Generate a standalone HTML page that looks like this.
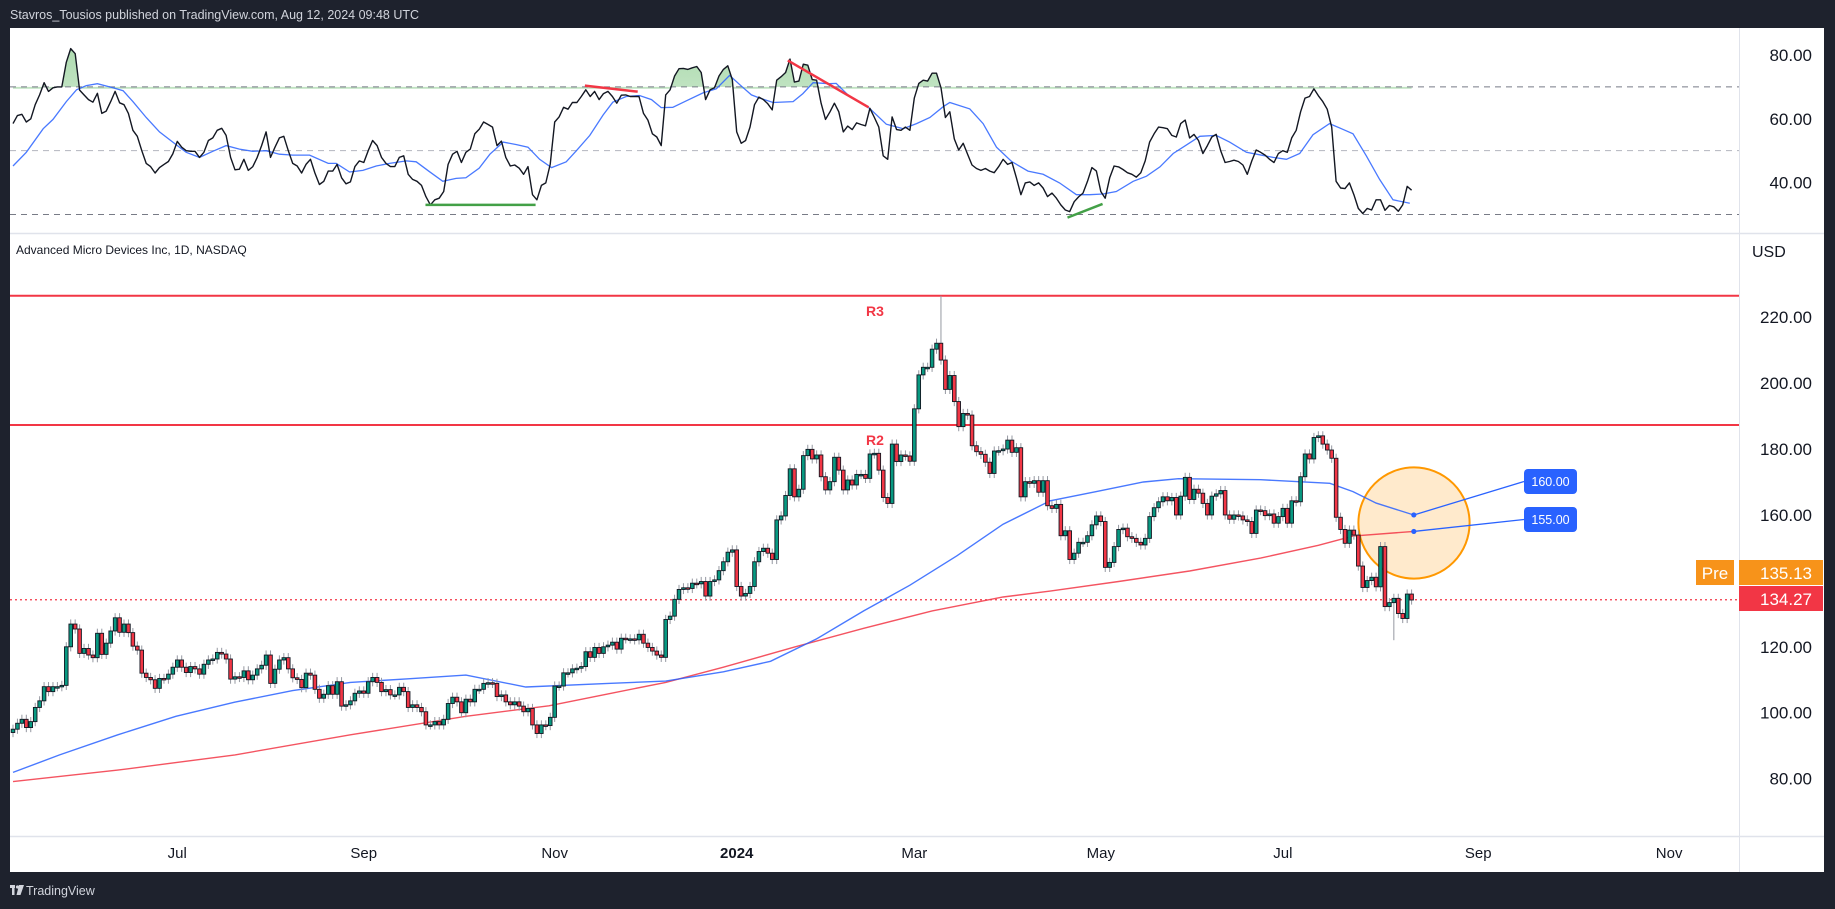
<!DOCTYPE html>
<html>
<head>
<meta charset="utf-8">
<style>
html,body{margin:0;padding:0;background:#1e222d;}
body{width:1835px;height:909px;overflow:hidden;font-family:"Liberation Sans",sans-serif;}
svg{display:block;}
</style>
</head>
<body>
<svg id="chart" width="1835" height="909" viewBox="0 0 1835 909" xmlns="http://www.w3.org/2000/svg">
  <defs>
    <clipPath id="obClip"><rect x="10" y="28" width="1729" height="60.8"/></clipPath>
    <linearGradient id="obGrad" x1="0" y1="0" x2="0" y2="1">
      <stop offset="0" stop-color="#4caf50" stop-opacity="0.45"/>
      <stop offset="1" stop-color="#4caf50" stop-opacity="0.05"/>
    </linearGradient>
  </defs>
  <rect x="0" y="0" width="1835" height="909" fill="#1e222d"/>
  <text x="10" y="19" font-size="12.5" fill="#d1d4dc" font-family="Liberation Sans, sans-serif">Stavros_Tousios published on TradingView.com, Aug 12, 2024 09:48 UTC</text>
  <rect x="10" y="28" width="1814" height="844" fill="#ffffff"/>
  <line x1="1739.5" y1="28" x2="1739.5" y2="872" stroke="#e0e3eb" stroke-width="1"/>
  <line x1="10" y1="233.5" x2="1824" y2="233.5" stroke="#e0e3eb" stroke-width="1.5"/>
  <line x1="10" y1="836.5" x2="1824" y2="836.5" stroke="#e0e3eb" stroke-width="1.5"/>
  <g id="rsiPane"></g>
  <g id="mainPane"></g>
  <text x="16" y="254" font-size="12" fill="#131722">Advanced Micro Devices Inc, 1D, NASDAQ</text>
  <text x="1752" y="257" font-size="16" fill="#131722">USD</text>
  <g id="axes"></g>
  <g>
    <rect x="10" y="885" width="5" height="3" fill="#d1d4dc"/>
    <rect x="12" y="885" width="2.5" height="10" fill="#d1d4dc"/>
    <circle cx="17.5" cy="887" r="1.6" fill="#d1d4dc"/>
    <polygon points="19,885 24,885 20.5,895 16.5,895" fill="#d1d4dc"/>
    <text x="26" y="895" font-size="12.5" fill="#d1d4dc">TradingView</text>
  </g>
</svg>
<script>
// ---------- DATA ----------
const closes = [
95.0,96.8,98.0,95.5,97.3,101.6,103.6,107.9,106.4,107.9,
107.9,108.3,120.0,126.9,125.4,118.0,119.5,117.5,116.7,124.1,
117.7,121.1,124.8,128.8,124.4,126.9,124.3,120.2,119.0,112.0,
110.7,110.0,107.4,110.4,110.2,111.7,113.8,116.0,113.8,112.2,
114.0,113.3,111.7,114.7,116.0,116.3,118.3,117.8,116.3,110.2,
110.9,110.7,112.7,110.0,111.4,113.3,114.4,117.5,108.9,113.2,
116.0,116.7,113.3,110.6,110.1,107.6,112.0,111.4,107.1,104.4,
105.6,108.2,105.6,109.4,102.0,102.4,103.6,105.9,106.6,105.9,
109.4,110.7,109.2,106.4,107.0,105.4,105.4,107.7,
106.4,101.6,102.4,101.6,100.3,96.3,96.3,97.3,96.3,98.0,
102.8,104.7,103.3,100.0,104.1,103.3,107.1,107.1,108.9,109.1,
108.9,104.9,105.4,103.3,102.4,103.3,102.0,100.3,101.3,96.3,
93.7,96.3,96.1,98.6,108.1,108.1,112.1,112.1,113.3,113.5,
114.0,118.5,116.8,119.8,118.0,120.0,120.5,121.4,119.3,122.6,
122.4,122.4,122.1,123.8,121.1,119.8,118.7,117.5,116.8,128.3,
129.3,134.4,137.4,137.9,137.7,139.3,139.1,139.8,135.4,139.8,
140.3,143.1,145.8,148.7,149.4,138.3,135.4,136.2,138.3,145.8,
148.9,149.9,148.4,146.5,
158.5,159.7,165.9,174.0,165.5,167.8,178.0,179.9,177.0,178.2,
171.6,167.6,170.1,177.5,173.6,167.6,170.6,169.1,172.3,172.3,
171.1,178.5,178.7,173.6,165.3,163.5,181.5,176.2,178.2,177.9,
176.3,192.2,202.5,204.8,204.8,210.3,212.1,207.0,198.1,202.3,
194.4,186.8,190.8,190.3,181.0,179.2,178.4,176.0,172.6,179.4,
179.5,180.0,182.7,179.0,180.4,165.5,170.1,169.6,170.4,166.9,
170.4,162.8,162.0,163.2,153.7,155.2,146.5,148.4,151.7,151.7,
153.7,157.0,159.7,158.0,144.1,145.6,150.4,155.6,156.0,153.4,
152.9,151.7,150.9,152.9,159.5,162.2,164.0,165.5,164.3,
165.3,160.0,165.7,171.4,164.7,167.8,166.6,163.5,160.0,165.7,
166.4,167.4,160.0,158.7,160.0,159.7,158.5,158.0,154.4,161.5,
161.3,159.8,160.3,157.5,159.5,162.0,157.5,164.3,164.0,171.6,
178.5,177.0,183.5,184.0,181.5,179.7,177.2,159.3,155.6,151.4,
155.4,153.9,144.5,138.0,140.1,141.1,138.2,150.4,132.2,133.4,
134.7,130.1,128.6,136.0,134.2
];
const firstOpen = 94.0;
const spikeBars = [209, 311];
const spikeVals = [226.5, 122.0];

const maBlueBars = [0,10.5,23.6,36.7,49.9,63,76,89,102,115.5,134,147,160,170.6,181,191.6,202,212.6,223,233.6,244,254.6,262.5,281,296.6,301.8,307,315.5];
const maBlueVals = [81.9,87.2,93.3,98.9,103.2,106.7,109.2,110.3,111.4,107.8,108.9,109.6,112.4,115.6,122.4,130.9,138.7,147.6,157.2,164.3,167.1,170,171,170.7,169.6,167.1,163.6,160];
const maRedBars = [0,23.6,50,76,102,120.7,134,147,160,176,191.6,207,223,233.6,249,265,281,294,301.8,315.5];
const maRedVals = [79.1,82.6,87.2,93.3,98.9,102.1,105.7,109.2,113.8,119.9,125.6,130.9,135.1,136.9,139.8,143,146.9,150.8,153.6,155];

const targetVals = [160, 155];
const targetLabels = ["160.00", "155.00"];
const resistanceVals = [226.5, 187.3];
const resistanceNames = ["R3", "R2"];
const lastPrice = 134.27;
const prePrice = 135.13;

const rsiVals = [
58.5,61,61.4,59,60,64.4,67.5,71.3,68.6,69.7,70,70,77.7,82,80.4,69,67.5,66,65.2,68,
61.7,62.4,65.4,68.6,65,64.4,61.7,56.4,54.5,50,46,45,43,44.7,45.7,46.6,49,52.9,51.1,50,
49.8,49.8,47.9,49.5,53.2,54,56.4,57,54.8,47.9,44,44.2,47.3,43.8,45,47.9,51.6,55.9,47.9,51.1,
54,54.5,50,46,45.2,43,45.7,47.3,43,39.4,40.4,43.6,43.6,45.7,41.5,39.6,40.2,45,46.8,46.3,
50,53.2,51.6,47.9,46,45,45,47.9,48.4,42.6,41,40.4,39.1,35.6,33,34.6,35.1,37.2,45.7,48.9,
49.8,46.3,49.5,50.5,55.3,56.7,
59,58.2,57.4,51.6,53,47.9,45.2,45.5,44.5,42.6,45,36.2,34.6,39.1,39.9,45.7,59,60.6,63.6,63,
65.1,65.1,67,69.1,67,68.6,66,67.9,68.6,67,64.9,67.4,67.5,67,67,67,61.7,59.6,55.3,54.3,
51.6,67.5,69.1,73.4,75.7,75.8,75.5,76,76.4,74.5,66,69.1,69.7,73.4,75.5,76.6,72.3,55.9,52.3,53.2,
57.4,64.4,66.8,66,64.7,62.8,72.1,73.2,74.5,78.7,71.5,71.8,77.1,76.8,72.3,72.1,64.9,59.8,62.2,64.9,
62.2,55.9,57.7,56.6,58.7,58.2,57.8,63.3,60.4,57.4,48.4,47.3,60.6,56.6,56.4,57.4,56.4,66.5,71.1,72.1,
71.8,74.3,74.3,69.7,60.4,62.2,
53.7,50.2,52.3,48.9,45.5,44.4,43.8,44.4,43.6,43.1,45,47.3,45.7,46.3,41.5,36.2,39.9,40.2,39.1,39.9,
38.3,35.6,36.7,35.1,33,31.4,30.9,34,35.5,36.7,40.4,44.7,43.6,37.2,35.1,41.5,45.2,44.9,44.1,43.1,
42.6,41.7,43.1,46.8,52.7,55.3,57.4,57.2,56.9,54.8,54.3,58.5,59.6,54,55.1,53.2,49.1,51.6,54.3,55.1,
50,46.3,46.6,47,46.6,45.5,42.6,46.8,50.2,49.5,48.6,47.3,46.3,49.1,50,49.5,54,56.4,62.2,66.5,
67,69.4,67.2,65.4,63,57.4,40.4,38.3,38.1,39.9,36.2,31.9,30.3,31.9,31.4,34.6,34.6,31.3,32.8,32.4,
31,33,38.8,37.6
];
const rsiMaBars = [0,3,6.8,9,12,14.3,16.5,19,22.5,24.8,27,30,33,36,39,42,45,48,51,54,57,60,63,66.8,71,72.8,75.8,78.8,81.8,84.8,88.6,90.8,93.8,96.8,99.8,102,105,107.4,110.4,113.4,116,118.6,121.3,124.6,126.9,129.9,132.9,135.1,138.1,141.1,143.8,146,148.6,151.6,155.4,158.4,161.4,163.7,166.3,168.2,171.2,175.7,177.9,180.2,183.9,185.4,188.4,192.9,196.7,200.5,203.5,206.5,209.5,211,215.5,218.5,221.5,224.9,228.6,232,235.7,239.5,242.5,245.5,248.5,252.3,255.3,258.3,261.3,264.3,267.3,271,274,277.8,280.8,283.8,286.8,289.8,292.8,296.5,299.5,301.8,304.8,307.8,310.8,314.6];
const rsiMaVals = [45.2,49.5,56.9,59.8,65.4,69.1,70.4,71,69.7,68.8,65.4,60.4,55.9,52.7,49.5,47.9,49.8,51.6,50.5,49.8,50,48.9,48.6,48.6,46,46,43.3,43.8,45.2,46,46.8,46.5,43.4,40.4,41.3,41.5,44.5,48.9,52.7,51.9,51.1,47.3,44.7,46.5,50,54.8,61.2,65.2,67,67.3,66,63.5,63.6,65.6,68.1,69.4,73.6,70.7,67.5,66.5,65.1,65.4,67.9,71.3,71,71.1,67,63.3,58.3,56.9,58.5,60.4,63.8,65.1,63.1,58.5,51.1,46.6,43.6,42.6,39.9,36.2,36.2,36.4,37.2,40.4,42,44.9,49.1,51.8,54.5,54.8,52.7,49.5,48.7,47.9,47.3,49.1,55,58.5,56.7,55.3,48.4,41,34.6,33.5];
const divBars = [[92.9,117.7],[128.8,140.7],[174.5,192.7],[237.5,245.4]];
const divVals = [[33,33],[70.4,68.5],[78.3,63.6],[29,33.3]];
const divColors = ["#43a047","#f23645","#f23645","#43a047"];

const rsiTicks = [80, 60, 40];
const priceTicks = [220, 200, 180, 160, 120, 100, 80];
const timeTickBars = [37, 79, 122, 163, 203, 245, 286, 330, 373];
const timeTickLabels = ["Jul","Sep","Nov","2024","Mar","May","Jul","Sep","Nov"];

// ---------- SCALES ----------
const NS = "http://www.w3.org/2000/svg";
const PL = 10, PR = 1739;
function xs(i){ return 13 + i * 4.44; }
function ys(p){ return 317.2 + (220 - p) * 3.296; }
function yr(v){ return 55 + (80 - v) * 3.189; }
function mk(tag, attrs, parent){
  const e = document.createElementNS(NS, tag);
  for (const k in attrs) e.setAttribute(k, attrs[k]);
  parent.appendChild(e);
  return e;
}
const rsiG = document.getElementById('rsiPane');
const mainG = document.getElementById('mainPane');
const axG = document.getElementById('axes');

// ---------- RSI PANE ----------
let rsiPts = rsiVals.map(function(v, i){ return xs(i).toFixed(1) + ',' + yr(v).toFixed(1); });
const ob = mk('polygon', {points: xs(0) + ',' + yr(70) + ' ' + rsiPts.join(' ') + ' ' + xs(rsiVals.length - 1) + ',' + yr(70), fill: 'url(#obGrad)', 'clip-path': 'url(#obClip)'}, rsiG);


[70, 50, 30].forEach(function(v){
  const l = mk('line', {x1: PL, x2: PR, y1: yr(v), y2: yr(v), stroke: v === 50 ? '#b2b5be' : '#787b86', 'stroke-width': 1, 'stroke-dasharray': '6 5'}, rsiG);
  
  
});
const rsiMa = mk('polyline', {points: rsiMaBars.map(function(b, i){ return xs(b).toFixed(1) + ',' + yr(rsiMaVals[i]).toFixed(1); }).join(' '), fill: 'none', stroke: '#2962ff', 'stroke-width': 1.3, 'stroke-opacity': 0.85}, rsiG);


const rsiLine = mk('polyline', {points: rsiPts.join(' '), fill: 'none', stroke: '#131722', 'stroke-width': 1.4, 'stroke-linejoin': 'round'}, rsiG);


divBars.forEach(function(b, k){
  const d = mk('line', {x1: xs(b[0]), x2: xs(b[1]), y1: yr(divVals[k][0]), y2: yr(divVals[k][1]), stroke: divColors[k], 'stroke-width': 2.5}, rsiG);
  
  
});

// ---------- MAIN PANE ----------
resistanceVals.forEach(function(v, k){
  const l = mk('line', {x1: PL, x2: PR, y1: ys(v), y2: ys(v), stroke: '#f23645', 'stroke-width': 2}, mainG);
  
  
  const t = mk('text', {x: 875, y: ys(v) + 20, 'font-size': 14, 'font-weight': 'bold', fill: '#f23645', 'text-anchor': 'middle'}, mainG);
  t.textContent = resistanceNames[k];
  
  
});
const pl = mk('line', {x1: PL, x2: PR, y1: ys(lastPrice), y2: ys(lastPrice), stroke: '#f23645', 'stroke-width': 1.2, 'stroke-dasharray': '2 3'}, mainG);



const circ = mk('circle', {cx: 1414, cy: 523, r: 55.6, fill: '#ff9800', 'fill-opacity': 0.2, stroke: '#ff9800', 'stroke-width': 2}, mainG);



const maRed = mk('polyline', {points: maRedBars.map(function(b, i){ return xs(b).toFixed(1) + ',' + ys(maRedVals[i]).toFixed(1); }).join(' '), fill: 'none', stroke: '#f23645', 'stroke-width': 1.4, 'stroke-opacity': 0.85}, mainG);


const maBlue = mk('polyline', {points: maBlueBars.map(function(b, i){ return xs(b).toFixed(1) + ',' + ys(maBlueVals[i]).toFixed(1); }).join(' '), fill: 'none', stroke: '#2962ff', 'stroke-width': 1.4, 'stroke-opacity': 0.85}, mainG);



let prev = firstOpen;
closes.forEach(function(c, i){
  const o = prev; prev = c;
  let hi = Math.max(o, c) + 1.4, lo = Math.min(o, c) - 1.4;
  const si = spikeBars.indexOf(i);
  if (si >= 0) { if (spikeVals[si] > hi) hi = spikeVals[si]; else lo = spikeVals[si]; }
  const x = xs(i);
  const w = mk('line', {x1: x, x2: x, y1: ys(hi), y2: ys(lo), stroke: '#9598a1', 'stroke-width': 1}, mainG);
  
  
  const top = ys(Math.max(o, c)), bot = ys(Math.min(o, c));
  const b = mk('rect', {x: x - 1.8, y: top, width: 3.6, height: Math.max(1.5, bot - top), fill: c >= o ? '#089981' : '#f23645', stroke: '#131722', 'stroke-width': 0.9}, mainG);
  
  
});

const tx = xs(315.5);
targetVals.forEach(function(v, k){
  const ly = k === 0 ? 481.5 : 519.5;
  const ln = mk('line', {x1: tx, y1: ys(v), x2: 1524, y2: ly, stroke: '#2962ff', 'stroke-width': 1.3}, mainG);
  
  
  const dot = mk('circle', {cx: tx, cy: ys(v), r: 2.6, fill: '#2962ff'}, mainG);
  
  
  const box = mk('rect', {x: 1524, y: ly - 12.5, width: 53, height: 25, rx: 4, fill: '#2962ff'}, mainG);
  
  
  const t = mk('text', {x: 1550.5, y: ly + 4.5, 'font-size': 12.5, fill: '#ffffff', 'text-anchor': 'middle'}, mainG);
  t.textContent = targetLabels[k];
  
  
});

// ---------- AXES ----------
rsiTicks.forEach(function(v){
  const t = mk('text', {x: 1812, y: yr(v) + 6, 'font-size': 17, fill: '#131722', 'text-anchor': 'end'}, axG);
  t.textContent = v.toFixed(2);
  
  
});
priceTicks.forEach(function(v){
  const t = mk('text', {x: 1812, y: ys(v) + 6, 'font-size': 17, fill: '#131722', 'text-anchor': 'end'}, axG);
  t.textContent = v.toFixed(2);
  
  
});
timeTickBars.forEach(function(b, k){
  const t = mk('text', {x: xs(b), y: 858, 'font-size': 15, fill: '#131722', 'text-anchor': 'middle', 'font-weight': timeTickLabels[k] === '2024' ? 'bold' : 'normal'}, axG);
  t.textContent = timeTickLabels[k];
  
  
});
const preTag = mk('rect', {x: 1696, y: 560, width: 38, height: 25, fill: '#f7931a'}, axG);


const preTagT = mk('text', {x: 1715, y: 579, 'font-size': 17, fill: '#ffffff', 'text-anchor': 'middle'}, axG);
preTagT.textContent = 'Pre';


const preBox = mk('rect', {x: 1739, y: 560, width: 84, height: 25, fill: '#f7931a'}, axG);


const preT = mk('text', {x: 1812, y: 579, 'font-size': 17, fill: '#ffffff', 'text-anchor': 'end'}, axG);
preT.textContent = prePrice.toFixed(2);


const lastBox = mk('rect', {x: 1739, y: 586, width: 84, height: 25, fill: '#f23645'}, axG);


const lastT = mk('text', {x: 1812, y: 605, 'font-size': 17, fill: '#ffffff', 'text-anchor': 'end'}, axG);
lastT.textContent = lastPrice.toFixed(2);


</script>
</body>
</html>
